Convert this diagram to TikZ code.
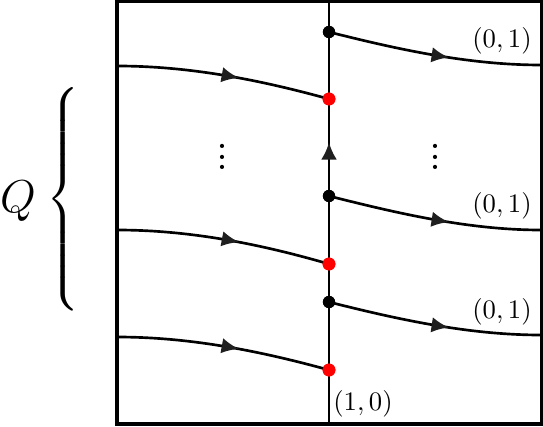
\documentclass[tikz,border=0pt]{standalone}
\usetikzlibrary{arrows.meta,decorations.markings}
\usepackage{graphicx}
\begin{document}
\begin{tikzpicture}[x=0.375pt,y=-0.375pt,
  curve/.style={line width=1.0pt,postaction={decorate},
    decoration={markings,mark=at position 0.57 with {\arrow[black!88]{Latex[length=6.5pt,width=5.8pt]}}}},
  bdot/.style={circle,fill=black,inner sep=0pt,minimum size=4.6pt},
  rdot/.style={circle,fill=red,inner sep=0pt,minimum size=4.8pt},
  lbl/.style={inner sep=0pt},
  vd/.style={inner sep=0pt,font=\bfseries}]
\useasboundingbox (0,0) rectangle (543,426);
\draw[line width=1.4pt] (117,1.5) rectangle (541.5,424);
\coordinate (vt) at (329,1);
\coordinate (vb) at (329,424);
\draw[line width=1.1pt,postaction={decorate},
  decoration={markings,mark=at position 0.666 with {\arrow[black!88]{Latex[length=6.5pt,width=6pt]}}}] (vb) -- (vt);
% left curves
\coordinate (l1) at (117,66);
\coordinate (l2) at (117,230);
\coordinate (l3) at (117,337);
\node[rdot] (r1) at (329,99) {};
\node[rdot] (r2) at (329,264) {};
\node[rdot] (r3) at (329,370) {};
\draw[curve] (l1) .. controls (190,66) and (260,80) .. (r1.center);
\draw[curve] (l2) .. controls (190,230) and (260,244) .. (r2.center);
\draw[curve] (l3) .. controls (190,337) and (260,351) .. (r3.center);
% right curves
\node[bdot] (b1) at (329,32) {};
\node[bdot] (b2) at (329,196) {};
\node[bdot] (b3) at (329,302) {};
\coordinate (e1) at (541,65);
\coordinate (e2) at (541,230);
\coordinate (e3) at (541,335);
\draw[curve] (b1.center) .. controls (400,50) and (470,65) .. (e1);
\draw[curve] (b2.center) .. controls (400,214) and (470,230) .. (e2);
\draw[curve] (b3.center) .. controls (400,320) and (470,335) .. (e3);
\node[bdot] at (329,32) {};
\node[bdot] at (329,196) {};
\node[bdot] at (329,302) {};
\node[rdot] at (329,99) {};
\node[rdot] at (329,264) {};
\node[rdot] at (329,370) {};
% labels
\node[lbl] (t1) at (502,41) {$(0,1)$};
\node[lbl] (t2) at (502,206) {$(0,1)$};
\node[lbl] (t3) at (502,312) {$(0,1)$};
\node[lbl] (t4) at (363,404) {$(1,0)$};
\node[vd] (d1) at (222,149) {$\vdots$};
\node[vd] (d2) at (435,149) {$\vdots$};
\node[lbl] (q) at (18,201) {\fontsize{18}{20}\selectfont $Q$};
\node[lbl] (br) at (65,203) {\scalebox{1.4}{$\left\{\vrule height 29.5pt depth 29.5pt width 0pt\right.$}};
\end{tikzpicture}
\end{document}
